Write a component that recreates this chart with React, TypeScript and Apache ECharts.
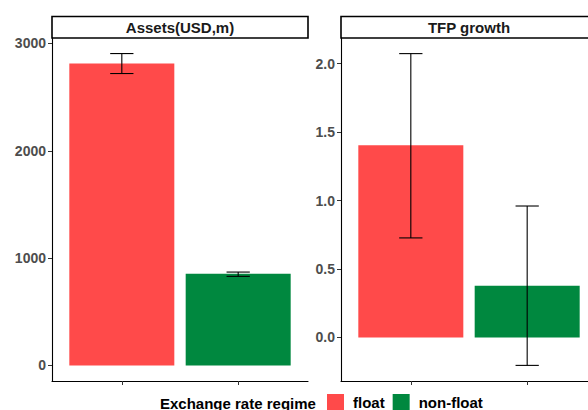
import React, { useEffect, useRef } from "react";
import * as echarts from "echarts";

const regimes = ["float", "non-float"];
const panelTitles = ["Assets(USD,m)", "TFP growth"];
const assetsMean = [2813, 854];
const assetsLow = [2720, 830];
const assetsHigh = [2906, 870];
const tfpMean = [1.404, 0.378];
const tfpLow = [0.727, -0.204];
const tfpHigh = [2.073, 0.96];
const assetsTicks = [0, 1000, 2000, 3000];
const tfpTicks = [0, 0.5, 1, 1.5, 2];
const colors = ["#FF4A4A", "#00883F"];

const FONT = "'Liberation Sans', Arial, Helvetica, sans-serif";

export default function App() {
  const ref = useRef<HTMLDivElement>(null);
  useEffect(() => {
    if (!ref.current) return;
    const chart = echarts.init(ref.current, null, { renderer: "svg" });

    // right panel is cut by the page edge: same unit scale as left (116.36 px / unit)
    const grids = [
      { left: 52, top: 38, width: 256, height: 343 },
      { left: 341, top: 38, width: 247, height: 343 },
    ];
    const xMax = [2.6, 0.4 + 247 / (256 / 2.2)];
    const yRanges = [
      { min: -145, max: 3051, ticks: assetsTicks, fmt: (v: number) => String(v) },
      { min: -0.318, max: 2.187, ticks: tfpTicks, fmt: (v: number) => v.toFixed(1) },
    ];
    const means = [assetsMean, tfpMean];
    const lows = [assetsLow, tfpLow];
    const highs = [assetsHigh, tfpHigh];

    const xAxis = grids.map((_, i) => ({
      type: "value",
      gridIndex: i,
      min: 0.4,
      max: xMax[i],
      axisLine: { show: true, onZero: false, lineStyle: { color: "#000", width: 1.1 } },
      axisTick: { show: true, length: 4, customValues: [1, 2], lineStyle: { color: "#333" } },
      axisLabel: { show: false },
      splitLine: { show: false },
    }));
    const yAxis = yRanges.map((r, i) => ({
      type: "value",
      gridIndex: i,
      min: r.min,
      max: r.max,
      axisLine: { show: true, onZero: false, lineStyle: { color: "#000", width: 1.1 } },
      axisTick: { show: true, length: 4, customValues: r.ticks, lineStyle: { color: "#333" } },
      axisLabel: {
        customValues: r.ticks,
        formatter: r.fmt,
        color: "#4D4D4D",
        fontWeight: "bold",
        fontSize: 14,
        fontFamily: FONT,
        margin: 6,
      },
      splitLine: { show: false },
    }));

    const series: any[] = [];
    for (let p = 0; p < 2; p++) {
      regimes.forEach((name, k) => {
        series.push({
          type: "bar",
          name,
          xAxisIndex: p,
          yAxisIndex: p,
          barWidth: 105,
          barGap: "-100%",
          itemStyle: { color: colors[k] },
          data: [[k + 1, means[p][k]]],
        });
      });
      series.push({
        type: "custom",
        name: "err" + p,
        xAxisIndex: p,
        yAxisIndex: p,
        encode: { x: 0, y: [1, 2] },
        data: regimes.map((_, k) => [k + 1, lows[p][k], highs[p][k]]),
        renderItem: (params: any, api: any) => {
          const x = api.value(0);
          const lo = api.coord([x, api.value(1)]);
          const hi = api.coord([x, api.value(2)]);
          const half = api.size([0.2, 0])[0] / 2;
          const style = { stroke: "#000", lineWidth: 1.1, fill: "none" };
          return {
            type: "group",
            children: [
              { type: "line", shape: { x1: lo[0], y1: lo[1], x2: hi[0], y2: hi[1] }, style },
              { type: "line", shape: { x1: lo[0] - half, y1: lo[1], x2: lo[0] + half, y2: lo[1] }, style },
              { type: "line", shape: { x1: hi[0] - half, y1: hi[1], x2: hi[0] + half, y2: hi[1] }, style },
            ],
          };
        },
        z: 5,
      });
    }

    const stripW = [256, 256];
    const graphic: any[] = [];
    grids.forEach((g, i) => {
      graphic.push({
        type: "rect",
        shape: { x: g.left, y: 16.5, width: stripW[i], height: 21.5 },
        style: { fill: "#fff", stroke: "#000", lineWidth: 1.6 },
      });
      graphic.push({
        type: "text",
        x: g.left + stripW[i] / 2,
        y: 27.5,
        style: {
          text: panelTitles[i],
          fill: "#1A1A1A",
          font: `bold 15px ${FONT}`,
          align: "center",
          verticalAlign: "middle",
        },
      });
    });
    graphic.push({
      type: "text",
      x: 160,
      y: 403,
      style: {
        text: "Exchange rate regime",
        fill: "#000",
        font: `bold 15px ${FONT}`,
        align: "left",
        verticalAlign: "middle",
      },
    });

    chart.setOption({
      animation: false,
      backgroundColor: "#fff",
      grid: grids,
      xAxis,
      yAxis,
      series,
      graphic,
      legend: {
        data: regimes,
        left: 327,
        top: 394,
        icon: "rect",
        itemWidth: 17,
        itemHeight: 17,
        itemGap: 8,
        padding: 0,
        textStyle: {
          color: "#000",
          fontWeight: "bold",
          fontSize: 15,
          fontFamily: FONT,
          padding: [0, 0, 0, 4],
        },
      },
    });
    return () => chart.dispose();
  }, []);
  return (
    <div
      ref={ref}
      style={{ position: "absolute", left: 0, top: 0, width: 588, height: 410 }}
    />
  );
}
